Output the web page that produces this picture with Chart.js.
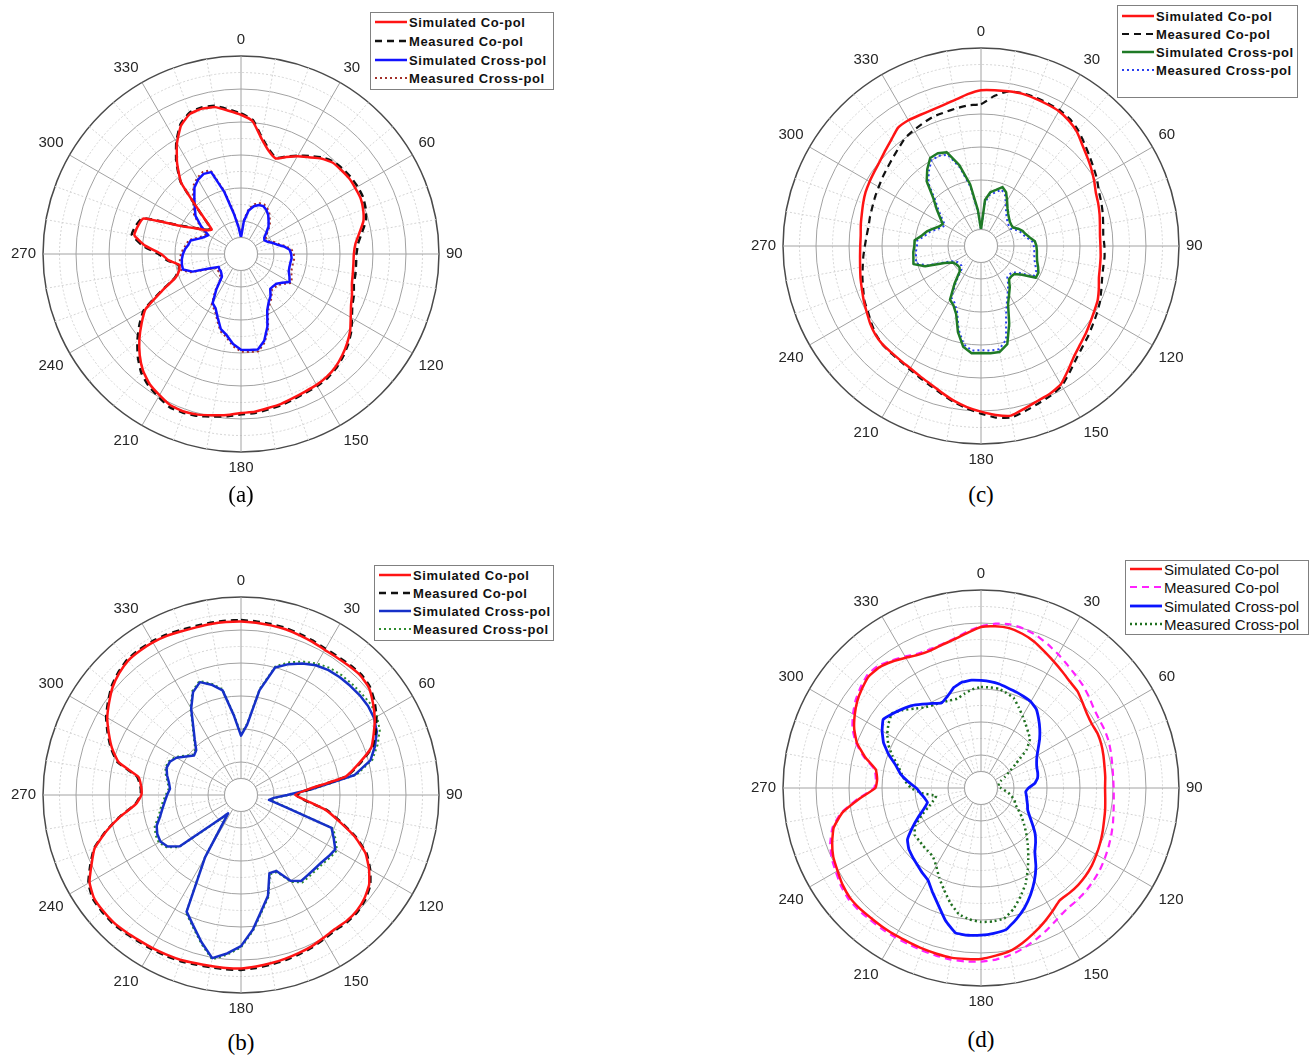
<!DOCTYPE html>
<html lang="en">
<head>
<meta charset="utf-8">
<title>Radiation patterns</title>
<script src="https://cdn.jsdelivr.net/npm/chart.js@4.4.1/dist/chart.umd.min.js"></script>
<style>
  html, body { margin: 0; padding: 0; background: #fff; }
  body { position: relative; width: 1309px; height: 1059px; overflow: hidden; font-family: 'Liberation Sans', Arial, sans-serif; }
  canvas.polar { position: absolute; }
  .legend { position: absolute; background: #fff; border: 1.5px solid #808080; box-sizing: border-box; z-index: 2; }
  .legend .row { position: absolute; left: 0; right: 0; height: 16px; }
  .legend svg { position: absolute; left: 3px; top: 0; }
  .legend span { position: absolute; left: 38px; top: 50%; transform: translateY(-50%); color: #111; white-space: nowrap; }
  .legend.boldText span { font-weight: bold; font-size: 13px; letter-spacing: 0.6px; }
  .legend.plainText span { font-weight: normal; font-size: 15px; }
  .caption { position: absolute; transform: translate(-50%, -50%); font-family: 'Liberation Serif', 'Times New Roman', serif; font-size: 23px; color: #000; }
</style>
</head>
<body>
<script>
// Sampling angles (degrees, clockwise from top) shared by every pattern
const angleLabels = ['0','5','10','15','20','25','30','35','40','45','50','55',
  '60','65','70','75','80','85','90','95','100','105','110','115',
  '120','125','130','135','140','145','150','155','160','165','170','175',
  '180','185','190','195','200','205','210','215','220','225','230','235',
  '240','245','250','255','260','265','270','275','280','285','290','295',
  '300','305','310','315','320','325','330','335','340','345','350','355'];
// Angles that get a text label and a solid spoke
const spokeLabels = ['0','30','60','90','120','150','180','210','240','270','300','330'];

// Radial axis in dB
const DB_MIN = -30, DB_MAX = 0, HOLE_DB = -27.5, RING_STEP = 2.5;

// ---- (a) ----
const aSimCo = [
  -8.9,-9.8,-12.2,-13.8,-14.6,-13.8,  -12.9,-12.1,-11.1,-10.4,-10.2,-10.0,
  -10.0,-10.0,-10.3,-10.8,-11.8,-12.6, -12.9,-12.9,-12.8,-12.6,-12.1,-11.6,
  -10.8,-9.8,-9.0,-8.3,-7.7,-7.3,      -7.1,-7.0,-6.8,-6.5,-6.3,-6.0,
  -5.9,-5.5,-5.2,-4.8,-4.6,-4.7,       -5.3,-5.9,-6.9,-8.3,-9.9,-11.6,
  -13.3,-16.8,-19.4,-20.3,-20.5,-19.0, -17.9,-15.4,-13.6,-13.8,-14.3,-20.0,
  -22.3,-23.7,-24.2,-21.6,-15.9,-13.1, -10.6,-8.5,-7.4,-7.2,-7.4,-8.2];
const aMeasCo = [
  -8.7,-9.6,-12.0,-13.6,-14.5,-13.7,   -12.8,-11.9,-10.9,-10.2,-9.9,-9.7,
  -9.6,-9.6,-9.9,-10.4,-11.4,-12.2,    -12.5,-12.5,-12.4,-12.3,-11.8,-11.4,
  -10.6,-9.6,-8.8,-8.1,-7.5,-7.1,      -6.9,-6.8,-6.6,-6.3,-6.1,-5.8,
  -5.7,-5.3,-5.0,-4.6,-4.4,-4.4,       -5.0,-5.6,-6.5,-7.9,-9.5,-11.2,
  -13.0,-16.6,-19.3,-20.2,-20.4,-18.8, -17.5,-15.0,-13.2,-13.5,-14.1,-19.8,
  -22.2,-23.6,-24.1,-21.5,-15.8,-12.9, -10.4,-8.3,-7.2,-7.0,-7.2,-8.0];
const aSimCross = [
  -27.5,-25.0,-23.3,-22.5,-22.1,-22.0, -22.3,-22.8,-23.5,-24.1,-25.0,-25.7,
  -25.9,-25.6,-25.0,-24.4,-23.4,-22.6, -22.4,-22.3,-22.4,-22.4,-22.3,-21.9,
  -21.5,-22.4,-23.0,-23.1,-23.1,-22.2, -21.6,-20.6,-18.3,-16.4,-15.3,-15.4,
  -15.5,-16.3,-17.5,-18.2,-19.7,-20.9, -21.4,-23.5,-25.5,-25.8,-26.0,-26.0,
  -26.1,-24.9,-22.2,-20.9,-20.9,-21.0, -21.2,-21.5,-21.9,-22.1,-23.2,-23.9,
  -24.3,-22.6,-21.0,-20.1,-19.0,-17.7, -17.0,-16.6,-16.8,-20.3,-23.8,-26.0];
const aMeasCross = [
  -27.2,-24.7,-23.0,-22.2,-21.8,-21.7, -22.0,-22.5,-23.2,-23.8,-24.7,-25.4,
  -25.6,-25.3,-24.7,-24.1,-23.1,-22.3, -22.0,-21.9,-22.0,-22.0,-21.9,-21.5,
  -21.2,-22.1,-22.7,-22.8,-22.8,-21.9, -21.3,-20.3,-18.0,-16.1,-15.0,-15.1,
  -15.2,-16.0,-17.2,-17.9,-19.4,-20.6, -21.1,-23.2,-25.2,-25.5,-25.7,-25.7,
  -25.8,-24.6,-21.9,-20.6,-20.6,-20.7, -20.9,-21.2,-21.6,-21.8,-22.9,-23.6,
  -24.0,-22.3,-20.7,-19.8,-18.7,-17.4, -16.7,-16.3,-16.5,-20.0,-23.5,-25.7];

// ---- (b) ----
const bSimCo = [
  -3.7,-3.8,-3.9,-4.0,-4.2,-4.4,       -4.6,-4.6,-4.5,-4.4,-4.7,-5.6,
  -6.6,-7.8,-9.0,-11.5,-13.9,-19.7,    -21.8,-20.0,-17.0,-14.6,-11.7,-9.2,
  -7.6,-6.3,-5.6,-5.2,-5.1,-5.2,       -5.0,-4.7,-4.5,-4.3,-4.1,-3.9,
  -3.7,-3.7,-3.7,-3.6,-3.4,-3.3,       -3.2,-3.1,-2.9,-2.7,-2.7,-2.8,
  -3.5,-5.0,-6.4,-8.9,-11.5,-14.0,     -14.9,-14.8,-14.2,-10.8,-9.2,-7.9,
  -6.6,-5.6,-4.6,-3.9,-3.4,-3.3,       -3.3,-3.4,-3.6,-3.7,-3.7,-3.7];
const bMeasCo = [
  -3.5,-3.6,-3.7,-3.8,-4.0,-4.2,       -4.4,-4.4,-4.3,-4.2,-4.5,-5.3,
  -6.3,-7.5,-8.8,-11.3,-13.8,-19.5,    -21.6,-20.2,-16.8,-14.4,-11.5,-9.0,
  -7.4,-6.1,-5.4,-5.0,-4.9,-5.0,       -4.8,-4.5,-4.3,-4.1,-3.9,-3.7,
  -3.5,-3.5,-3.5,-3.4,-3.2,-3.1,       -3.0,-2.9,-2.7,-2.5,-2.5,-2.6,
  -3.3,-4.8,-6.3,-8.8,-11.4,-13.9,     -14.8,-14.7,-14.0,-10.6,-9.0,-7.7,
  -6.4,-5.4,-4.4,-3.7,-3.2,-3.1,       -3.1,-3.2,-3.4,-3.5,-3.5,-3.5];
const bSimCross = [
  -21.0,-19.3,-13.9,-10.0,-8.9,-8.0,   -7.3,-6.9,-6.7,-6.6,-6.5,-6.5,
  -6.7,-7.3,-8.4,-9.7,-12.5,-19.0,     -23.0,-25.0,-25.7,-23.1,-15.4,-14.5,
  -13.5,-13.8,-14.1,-14.2,-14.2,-14.1, -15.0,-17.3,-17.4,-14.2,-12.2,-9.5,
  -7.1,-5.9,-4.9,-6.9,-8.9,-10.5,      -19.1,-26.6,-25.5,-23.4,-17.9,-16.4,
  -15.9,-16.0,-16.4,-17.3,-17.9,-18.4, -18.8,-19.2,-18.9,-18.4,-18.0,-18.1,
  -18.7,-19.8,-20.7,-20.4,-19.1,-17.4, -14.9,-12.8,-11.8,-12.7,-13.9,-18.0];
const bMeasCross = [
  -20.8,-19.1,-13.7,-9.8,-8.6,-7.7,    -7.0,-6.5,-6.3,-6.2,-6.1,-6.0,
  -6.2,-6.8,-8.0,-9.4,-12.2,-18.8,     -22.8,-24.8,-25.5,-22.9,-15.1,-14.2,
  -13.2,-13.5,-13.8,-13.9,-13.9,-13.8, -14.8,-17.1,-17.2,-14.0,-12.0,-9.3,
  -6.9,-5.7,-4.7,-6.7,-8.7,-10.3,      -18.9,-26.4,-25.3,-23.2,-17.7,-16.2,
  -15.6,-15.7,-16.1,-17.0,-17.6,-18.1, -18.6,-19.0,-18.7,-18.2,-17.8,-17.9,
  -18.5,-19.6,-20.5,-20.2,-18.9,-17.2, -14.7,-12.6,-11.6,-12.5,-13.7,-17.8];

// ---- (c) ----
const cSimCo = [
  -6.4,-6.3,-6.2,-6.1,-6.2,-6.3,       -6.4,-6.8,-7.4,-8.3,-9.0,-9.6,
  -10.2,-10.8,-11.1,-11.4,-11.7,-11.9, -11.9,-11.8,-11.7,-11.5,-11.0,-10.5,
  -10.2,-9.8,-9.3,-8.8,-8.1,-7.0,      -5.8,-5.3,-5.0,-4.5,-3.9,-4.3,
  -4.9,-5.5,-6.2,-7.0,-7.7,-8.2,       -8.6,-8.8,-8.9,-8.9,-9.1,-9.5,
  -10.0,-10.4,-10.8,-11.1,-11.4,-11.6, -11.7,-11.7,-11.5,-11.3,-11.0,-10.7,
  -10.5,-10.3,-10.0,-9.5,-8.9,-8.1,    -8.0,-8.1,-8.1,-7.9,-7.5,-6.9];
const cMeasCo = [
  -8.5,-7.2,-6.2,-6.0,-6.0,-6.1,       -6.2,-6.5,-7.1,-7.9,-8.6,-9.2,
  -9.7,-10.3,-10.6,-10.9,-11.2,-11.4,  -11.3,-11.2,-11.2,-11.0,-10.6,-10.1,
  -9.7,-9.3,-8.8,-8.3,-7.6,-6.6,       -5.5,-5.0,-4.6,-4.1,-3.6,-3.9,
  -4.6,-5.3,-6.0,-6.8,-7.5,-8.0,       -8.4,-8.7,-8.8,-8.9,-9.2,-9.7,
  -10.2,-10.5,-11.0,-11.4,-11.8,-12.1, -12.4,-12.6,-12.7,-12.6,-12.5,-12.3,
  -12.1,-11.8,-11.5,-11.1,-10.6,-10.0, -9.7,-9.4,-9.1,-9.0,-8.8,-8.6];
const cSimCross = [
  -27.5,-23.0,-21.7,-21.2,-20.5,-21.0, -22.1,-23.0,-23.6,-24.0,-24.3,-24.4,
  -24.4,-23.8,-23.3,-23.0,-22.5,-21.8, -21.6,-21.5,-21.4,-21.2,-20.8,-20.4,
  -20.4,-22.4,-23.4,-23.5,-23.4,-22.4, -21.5,-20.3,-17.5,-14.6,-13.7,-13.7,
  -13.8,-13.7,-14.5,-16.5,-19.0,-20.1, -20.6,-23.0,-25.0,-25.4,-25.4,-25.3,
  -25.0,-23.9,-21.0,-19.4,-19.6,-19.7, -19.9,-19.9,-20.9,-21.5,-22.3,-23.0,
  -23.3,-22.4,-21.2,-19.8,-17.2,-15.8, -14.6,-14.5,-14.9,-17.3,-20.5,-24.5];
const cMeasCross = [
  -27.5,-23.4,-22.1,-21.6,-20.9,-21.4, -22.5,-23.4,-24.0,-24.4,-24.7,-24.8,
  -24.8,-24.2,-23.7,-23.4,-22.9,-22.2, -22.0,-21.9,-21.8,-21.6,-21.2,-20.8,
  -20.8,-22.9,-23.8,-23.9,-23.8,-22.8, -21.9,-20.7,-18.9,-15.3,-14.1,-14.1,
  -14.2,-14.1,-14.9,-16.9,-19.4,-20.5, -21.0,-23.4,-25.4,-25.8,-25.8,-25.7,
  -25.4,-24.3,-21.4,-19.8,-20.0,-20.1, -20.3,-20.3,-21.3,-21.9,-22.7,-23.4,
  -23.7,-22.8,-21.6,-20.2,-17.6,-16.2, -15.0,-14.9,-15.3,-17.7,-20.9,-24.9];

// ---- (d) ----
const dSimCo = [
  -5.6,-5.4,-5.4,-5.8,-6.4,-7.2,       -7.9,-8.5,-9.0,-9.3,-9.9,-10.4,
  -10.6,-10.5,-10.6,-10.8,-11.0,-11.1, -11.2,-11.1,-10.9,-10.7,-10.4,-10.1,
  -9.8,-9.5,-9.3,-9.2,-9.2,-9.2,       -8.4,-7.5,-6.6,-5.7,-4.9,-4.5,
  -4.1,-4.0,-3.9,-4.0,-4.1,-4.2,       -4.2,-4.2,-4.2,-4.1,-4.1,-4.4,
  -4.9,-5.3,-6.0,-6.9,-8.7,-11.5,      -14.0,-14.2,-13.8,-11.8,-10.0,-8.8,
  -7.9,-7.1,-6.5,-6.0,-6.1,-6.6,       -7.2,-7.7,-7.8,-7.5,-7.1,-6.4];
const dMeasCo = [
  -5.5,-5.0,-4.8,-5.0,-5.4,-6.0,       -6.6,-7.2,-7.7,-8.1,-8.6,-9.1,
  -9.3,-9.3,-9.4,-9.6,-9.8,-9.9,       -9.9,-9.8,-9.6,-9.3,-9.0,-8.7,
  -8.4,-8.1,-7.9,-7.7,-7.6,-7.5,       -7.0,-6.3,-5.6,-4.9,-4.3,-3.9,
  -3.7,-3.6,-3.6,-3.7,-3.8,-3.9,       -3.9,-3.9,-3.9,-3.8,-3.8,-4.1,
  -4.6,-5.0,-5.7,-6.7,-8.5,-11.3,      -13.8,-14.0,-13.6,-11.6,-9.8,-8.5,
  -7.6,-6.8,-6.2,-5.7,-5.8,-6.4,       -7.0,-7.5,-7.6,-7.4,-7.0,-6.2];
const dSimCross = [
  -13.7,-13.8,-14.0,-14.3,-14.5,-14.7, -14.9,-15.4,-16.4,-17.4,-18.4,-19.4,
  -20.2,-20.7,-21.0,-21.1,-21.3,-21.8, -22.8,-23.2,-23.0,-22.8,-22.5,-22.2,
  -21.5,-20.5,-19.3,-18.3,-17.3,-15.5, -13.8,-12.2,-10.7,-9.4,-8.2,-7.9,
  -7.7,-7.6,-7.7,-9.2,-11.1,-12.6,     -13.9,-14.4,-14.9,-15.3,-15.7,-16.4,
  -18.0,-19.5,-20.8,-21.6,-21.3,-20.8, -20.2,-18.9,-17.6,-16.6,-15.1,-13.7,
  -12.7,-11.9,-12.5,-13.1,-13.7,-14.5, -15.2,-15.8,-15.2,-14.2,-13.7,-13.6];
const dMeasCross = [
  -14.7,-14.7,-14.7,-15.1,-15.5,-16.5, -17.4,-18.2,-18.9,-19.5,-21.0,-23.5,
  -25.0,-26.0,-26.8,-27.2,-27.3,-27.4, -27.0,-26.5,-25.8,-25.2,-24.6,-24.3,
  -23.5,-22.5,-21.5,-20.3,-19.0,-17.5, -15.8,-14.0,-12.5,-11.0,-9.9,-9.7,
  -9.7,-10.0,-10.6,-12.0,-13.6,-15.0,  -16.4,-17.3,-17.5,-17.6,-17.7,-17.7,
  -18.5,-20.0,-21.5,-22.5,-23.1,-21.0, -19.4,-18.5,-17.8,-17.0,-15.7,-14.5,
  -13.6,-12.9,-12.4,-13.3,-14.3,-15.1, -15.5,-15.7,-15.9,-16.0,-15.5,-15.0];

// ---- line styles ----
const DASHED = [7, 5], DOTTED = [2, 3];
const styleRed = { color: '#ff1414', width: 2.5, dash: [], tension: 0.15 };

const panels = [
  { caption: '(a)', cx: 241, cy: 254, capY: 495,
    legend: { left: 370, top: 12, width: 184, height: 78, rows: [22, 41, 60, 78], cls: 'boldText' },
    series: [
      { name: 'Simulated Co-pol',    values: aSimCo,     ...styleRed },
      { name: 'Measured Co-pol',     values: aMeasCo,    color: '#111111', width: 2.5, dash: DASHED, tension: 0.15 },
      { name: 'Simulated Cross-pol', values: aSimCross,  color: '#1212ff', width: 2.5, dash: [], tension: 0 },
      { name: 'Measured Cross-pol',  values: aMeasCross, color: '#a3302a', width: 2, dash: DOTTED, tension: 0 }
    ] },
  { caption: '(c)', cx: 981, cy: 246, capY: 495,
    legend: { left: 1117, top: 5, width: 181, height: 93, rows: [16, 34, 52, 70], cls: 'boldText' },
    series: [
      { name: 'Simulated Co-pol',    values: cSimCo,     ...styleRed },
      { name: 'Measured Co-pol',     values: cMeasCo,    color: '#111111', width: 2.2, dash: DASHED, tension: 0.15 },
      { name: 'Simulated Cross-pol', values: cSimCross,  color: '#1f7a26', width: 2.5, dash: [], tension: 0 },
      { name: 'Measured Cross-pol',  values: cMeasCross, color: '#2a3ff0', width: 2, dash: DOTTED, tension: 0 }
    ] },
  { caption: '(b)', cx: 241, cy: 795, capY: 1043,
    legend: { left: 374, top: 565, width: 180, height: 76, rows: [575, 593, 611, 629], cls: 'boldText' },
    series: [
      { name: 'Simulated Co-pol',    values: bSimCo,     ...styleRed },
      { name: 'Measured Co-pol',     values: bMeasCo,    color: '#111111', width: 2.5, dash: DASHED, tension: 0.15 },
      { name: 'Simulated Cross-pol', values: bSimCross,  color: '#1630c8', width: 2.5, dash: [], tension: 0 },
      { name: 'Measured Cross-pol',  values: bMeasCross, color: '#2e8b2e', width: 2, dash: DOTTED, tension: 0 }
    ] },
  { caption: '(d)', cx: 981, cy: 788, capY: 1040,
    legend: { left: 1125, top: 560, width: 184, height: 75, rows: [569, 587, 606, 624], cls: 'plainText' },
    series: [
      { name: 'Simulated Co-pol',    values: dSimCo,     ...styleRed },
      { name: 'Measured Co-pol',     values: dMeasCo,    color: '#ff22ff', width: 2.2, dash: DASHED, tension: 0.15 },
      { name: 'Simulated Cross-pol', values: dSimCross,  color: '#0a14ff', width: 2.8, dash: [], tension: 0.1 },
      { name: 'Measured Cross-pol',  values: dMeasCross, color: '#1f6f1f', width: 2.5, dash: DOTTED, tension: 0.1 }
    ] }
];

// ---- grid helpers ----
function isSolidRing(v) {
  return Math.abs(v % 5) < 1e-6 || Math.abs(v - HOLE_DB) < 1e-6;
}
function ringColor(v) {
  if (Math.abs(v - DB_MAX) < 1e-6) return '#4a4a4a';
  return isSolidRing(v) ? '#a2a2a2' : '#d4d4d4';
}

// White disc in the middle of each pattern, with its own ring
const holePlugin = {
  id: 'centreHole',
  afterDatasetsDraw(chart) {
    const r = chart.scales.r;
    const rad = r.getDistanceFromCenterForValue(HOLE_DB);
    const ctx = chart.ctx;
    ctx.save();
    ctx.beginPath();
    ctx.arc(r.xCenter, r.yCenter, rad, 0, Math.PI * 2);
    ctx.fillStyle = '#ffffff';
    ctx.fill();
    ctx.lineWidth = 1;
    ctx.strokeStyle = '#a2a2a2';
    ctx.stroke();
    ctx.restore();
  }
};

const CANVAS_SIZE = 460, CENTER_DX = 234, CENTER_DY = 230;

function drawPanel(p) {
  const canvas = document.createElement('canvas');
  canvas.className = 'polar';
  canvas.width = CANVAS_SIZE;
  canvas.height = CANVAS_SIZE;
  canvas.style.left = (p.cx - CENTER_DX) + 'px';
  canvas.style.top = (p.cy - CENTER_DY) + 'px';
  document.body.appendChild(canvas);

  new Chart(canvas, {
    type: 'radar',
    data: {
      labels: angleLabels,
      datasets: p.series.map(s => ({
        label: s.name,
        data: s.values,
        borderColor: s.color,
        backgroundColor: 'transparent',
        borderWidth: s.width,
        borderDash: s.dash,
        tension: s.tension,
        fill: false,
        pointRadius: 0,
        pointHoverRadius: 0,
        pointHitRadius: 0
      }))
    },
    options: {
      responsive: false,
      animation: false,
      events: [],
      layout: { padding: 0 },
      plugins: { legend: { display: false }, tooltip: { enabled: false } },
      elements: { line: { borderJoinStyle: 'round' } },
      scales: {
        r: {
          min: DB_MIN,
          max: DB_MAX,
          ticks: { display: false, stepSize: RING_STEP },
          grid: {
            circular: true,
            color: c => c.tick ? ringColor(c.tick.value) : '#a2a2a2',
            lineWidth: c => (c.tick && Math.abs(c.tick.value - DB_MAX) < 1e-6) ? 1.5 : 1
          },
          border: {
            dash: c => (c.tick && !isSolidRing(c.tick.value)) ? [2, 2] : []
          },
          angleLines: {
            color: c => c.index % 6 === 0 ? '#a2a2a2' : (c.index % 2 === 0 ? '#d4d4d4' : 'rgba(0,0,0,0)'),
            lineWidth: c => c.index % 2 === 0 ? 1 : 0,
            borderDash: c => c.index % 6 === 0 ? [] : [2, 2]
          },
          pointLabels: {
            padding: 7,
            color: '#262626',
            font: { family: "'Liberation Sans', Arial, sans-serif", size: 15 },
            callback: lbl => spokeLabels.includes(lbl) ? lbl : ''
          }
        }
      }
    },
    plugins: [holePlugin]
  });

  // Legend box
  const lg = document.createElement('div');
  lg.className = 'legend ' + p.legend.cls;
  lg.style.left = p.legend.left + 'px';
  lg.style.top = p.legend.top + 'px';
  lg.style.width = p.legend.width + 'px';
  lg.style.height = p.legend.height + 'px';
  p.series.forEach((s, i) => {
    const row = document.createElement('div');
    row.className = 'row';
    row.style.top = (p.legend.rows[i] - p.legend.top - 9) + 'px';
    const dash = s.dash.length ? ` stroke-dasharray="${s.dash.join(',')}"` : '';
    row.innerHTML =
      `<svg width="34" height="16"><line x1="1" y1="8" x2="33" y2="8" stroke="${s.color}" stroke-width="${s.width}"${dash}/></svg>` +
      `<span>${s.name}</span>`;
    lg.appendChild(row);
  });
  document.body.appendChild(lg);

  // Caption
  const cap = document.createElement('div');
  cap.className = 'caption';
  cap.style.left = p.cx + 'px';
  cap.style.top = p.capY + 'px';
  cap.textContent = p.caption;
  document.body.appendChild(cap);
}

panels.forEach(drawPanel);
</script>
</body>
</html>
